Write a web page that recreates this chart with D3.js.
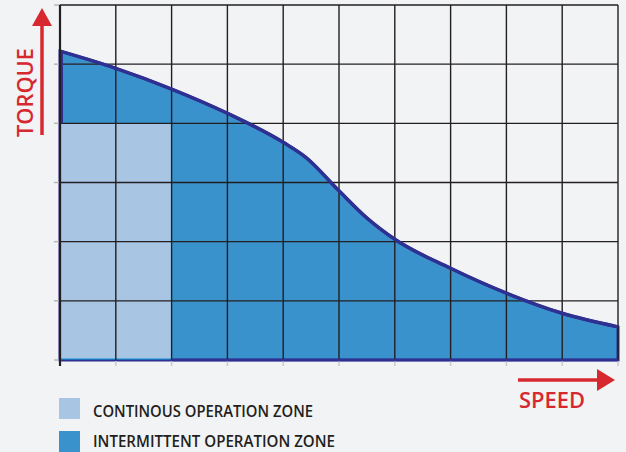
<!DOCTYPE html>
<html>
<head>
<meta charset="utf-8">
<script src="https://cdn.jsdelivr.net/npm/d3@7"></script>
<style>
  body { margin: 0; background: #f2f3f5; }
  svg { display: block; }
</style>
</head>
<body>
<div id="chart"></div>
<script>
// torque curve (speed in grid units, torque in grid units)
var speed  = [0, 1, 2, 3, 4, 4.4, 5, 5.5, 6, 7, 8, 9, 10];
var torque = [5.22, 4.93, 4.58, 4.17, 3.68, 3.43, 2.86, 2.40, 2.04, 1.55, 1.13, 0.79, 0.56];

// continuous zone corner
var contSpeed = 2, contTorque = 4;

var xTicks = d3.range(0, 11);
var yTicks = d3.range(0, 7);

var legendItems = ["CONTINOUS OPERATION ZONE", "INTERMITTENT OPERATION ZONE"];
var legendColors = ["#a8c5e3", "#3a92cd"];
var legendWidths = [220, 242];

var W = 626, H = 452;
var svg = d3.select("#chart").append("svg")
    .attr("width", W)
    .attr("height", H);

svg.append("rect").attr("width", W).attr("height", H).attr("fill", "#f2f3f5");

var x = d3.scaleLinear().domain([0, 10]).range([60, 618]);
var y = d3.scaleLinear().domain([0, 6]).range([360, 5]);

var pts = speed.map(function(s, i) { return [s, torque[i]]; });

// intermittent area
var area = d3.area()
    .x(function(d) { return x(d[0]); })
    .y0(y(0))
    .y1(function(d) { return y(d[1]); })
    .curve(d3.curveMonotoneX);

svg.append("path")
    .datum(pts)
    .attr("d", area)
    .attr("fill", "#3a92cd")
    .attr("stroke", "#2e3192")
    .attr("stroke-width", 3);

// continuous zone
svg.append("rect")
    .attr("x", x(0) + 0.5)
    .attr("y", y(contTorque))
    .attr("width", x(contSpeed) - x(0))
    .attr("height", y(0) - y(contTorque) - 1)
    .attr("fill", "#a8c5e3")
    .attr("stroke", "#1e9ad6")
    .attr("stroke-width", 1.2);

// grid
svg.append("g").selectAll("line")
  .data(xTicks.slice(1))
  .enter().append("line")
    .attr("x1", function(d) { return x(d); })
    .attr("x2", function(d) { return x(d); })
    .attr("y1", y(6)).attr("y2", y(0))
    .attr("stroke", "#231f20").attr("stroke-width", 1.4);

svg.append("g").selectAll("line")
  .data(yTicks.slice(1))
  .enter().append("line")
    .attr("x1", x(0)).attr("x2", x(10))
    .attr("y1", function(d) { return y(d); })
    .attr("y2", function(d) { return y(d); })
    .attr("stroke", "#231f20").attr("stroke-width", 1.4);

// tick marks (gray)
svg.append("g").selectAll("line")
  .data(yTicks)
  .enter().append("line")
    .attr("x1", x(0) - 6).attr("x2", x(0))
    .attr("y1", function(d) { return y(d); })
    .attr("y2", function(d) { return y(d); })
    .attr("stroke", "#b5b7ba").attr("stroke-width", 1.5);

svg.append("g").selectAll("line")
  .data(xTicks.slice(1))
  .enter().append("line")
    .attr("x1", function(d) { return x(d); })
    .attr("x2", function(d) { return x(d); })
    .attr("y1", y(0) + 1).attr("y2", y(0) + 6)
    .attr("stroke", "#c9cbce").attr("stroke-width", 1.5);

// curve line on top
var line = d3.line()
    .x(function(d) { return x(d[0]); })
    .y(function(d) { return y(d[1]); })
    .curve(d3.curveMonotoneX);

svg.append("path")
    .datum(pts)
    .attr("d", line)
    .attr("fill", "none")
    .attr("stroke", "#2e3192")
    .attr("stroke-width", 3.5)
    .attr("stroke-linejoin", "round");

// left edge of intermittent zone above the continuous zone
svg.append("line")
    .attr("x1", x(0) + 1.5).attr("x2", x(0) + 1.5)
    .attr("y1", y(torque[0])).attr("y2", y(contTorque))
    .attr("stroke", "#2e3192").attr("stroke-width", 3);

// axes
svg.append("line")
    .attr("x1", x(0)).attr("x2", x(0))
    .attr("y1", y(6)).attr("y2", y(0) + 6)
    .attr("stroke", "#231f20").attr("stroke-width", 2.2);
svg.append("line")
    .attr("x1", x(contSpeed)).attr("x2", x(10))
    .attr("y1", y(0)).attr("y2", y(0))
    .attr("stroke", "#2e3192").attr("stroke-width", 2.5);

// arrows
var red = "#d7282f";
svg.append("line")
    .attr("x1", 42).attr("x2", 42).attr("y1", 135).attr("y2", 22)
    .attr("stroke", red).attr("stroke-width", 3.5);
svg.append("path")
    .attr("d", "M32,26 L42,8 L52,26 Z")
    .attr("fill", red);

svg.append("line")
    .attr("x1", 518).attr("x2", 600).attr("y1", 380).attr("y2", 380)
    .attr("stroke", red).attr("stroke-width", 3.5);
svg.append("path")
    .attr("d", "M597,369 L615,380 L597,391 Z")
    .attr("fill", red);

svg.append("text")
    .attr("transform", "translate(33,92.5) rotate(-90)")
    .attr("text-anchor", "middle")
    .attr("font-family", "Open Sans, DejaVu Sans, sans-serif")
    .attr("font-size", 22)
    .attr("font-weight", 600)
    .attr("textLength", 89)
    .attr("lengthAdjust", "spacingAndGlyphs")
    .attr("fill", red)
    .text("TORQUE");

svg.append("text")
    .attr("x", 519).attr("y", 408)
    .attr("font-family", "Open Sans, DejaVu Sans, sans-serif")
    .attr("font-size", 22)
    .attr("font-weight", 600)
    .attr("textLength", 66)
    .attr("lengthAdjust", "spacingAndGlyphs")
    .attr("fill", red)
    .text("SPEED");

// legend
var legendTop = [398, 431];
var legendBase = [416.7, 447.3];

var lg = svg.append("g").selectAll("g")
  .data(legendItems)
  .enter().append("g");

lg.append("rect")
    .attr("x", 59)
    .attr("y", function(d, i) { return legendTop[i]; })
    .attr("width", 21).attr("height", 21)
    .attr("fill", function(d, i) { return legendColors[i]; });

lg.append("text")
    .attr("x", 93)
    .attr("y", function(d, i) { return legendBase[i]; })
    .attr("font-family", "Open Sans, DejaVu Sans, sans-serif")
    .attr("font-size", 16)
    .attr("font-weight", 600)
    .attr("textLength", function(d, i) { return legendWidths[i]; })
    .attr("lengthAdjust", "spacingAndGlyphs")
    .attr("fill", "#231f20")
    .text(function(d) { return d; });
</script>
</body>
</html>
